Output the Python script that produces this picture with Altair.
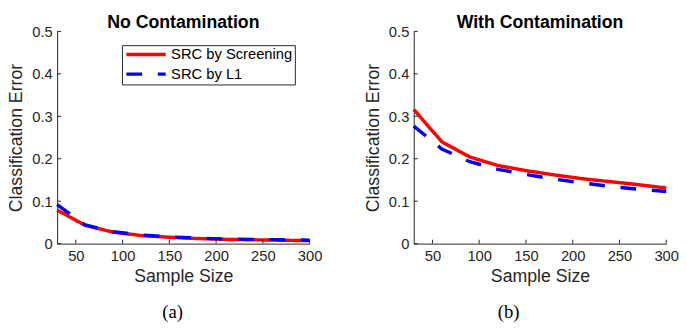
import altair as alt
import pandas as pd

# ---- data ----
sample_size = [30, 60, 90, 120, 150, 180, 210, 240, 270, 300]
no_contam_screening = [0.079, 0.043, 0.027, 0.019, 0.015, 0.012, 0.010, 0.009, 0.008, 0.007]
no_contam_l1 = [0.092, 0.044, 0.028, 0.020, 0.016, 0.013, 0.011, 0.010, 0.009, 0.008]
contam_screening = [0.316, 0.240, 0.204, 0.184, 0.172, 0.162, 0.153, 0.146, 0.139, 0.131]
contam_l1 = [0.277, 0.223, 0.193, 0.175, 0.163, 0.152, 0.143, 0.135, 0.128, 0.123]
series_names = ["SRC by Screening", "SRC by L1"]
panel_titles = ["No Contamination", "With Contamination"]
captions = ["(a)", "(b)"]
x_ticks = [50, 100, 150, 200, 250, 300]
y_ticks = [0, 0.1, 0.2, 0.3, 0.4, 0.5]

W, H = 257, 216
AX = "#262626"
FONT = "Liberation Sans"


def long_df(screen, l1):
    rows = []
    for s, v in zip(sample_size, screen):
        rows.append({"sample": s, "error": v, "method": series_names[0]})
    for s, v in zip(sample_size, l1):
        rows.append({"sample": s, "error": v, "method": series_names[1]})
    return pd.DataFrame(rows)


xscale = alt.Scale(domain=[30, 300], nice=False, zero=False)
yscale = alt.Scale(domain=[0, 0.5], nice=False)
x_axis = alt.Axis(values=x_ticks, format="d", ticks=False, title="Sample Size", labelFlush=False)
y_axis = alt.Axis(values=y_ticks, format="~g", ticks=False, title="Classification Error", labelFlush=False)


def panel(screen, l1, title, caption, show_legend, cap_shift):
    df = long_df(screen, l1)
    if show_legend:
        leg = alt.Legend(
            title=None, orient="none", legendX=66, legendY=14,
            symbolType="M-4,0H4", symbolSize=100, symbolStrokeWidth=3.5,
            labelFont=FONT, labelFontSize=15, labelColor="black", labelOffset=18,
            padding=2, rowPadding=4, strokeColor=AX, fillColor="white",
            symbolOffset=15,
        )
    else:
        leg = None
    base = alt.Chart(df).mark_line(strokeWidth=3.5, strokeCap="butt").encode(
        x=alt.X("sample:Q", scale=xscale, axis=x_axis),
        y=alt.Y("error:Q", scale=yscale, axis=y_axis),
        color=alt.Color("method:N", scale=alt.Scale(domain=series_names, range=["#ff0000", "#0000ff"]),
                        legend=leg),
        strokeDash=alt.StrokeDash("method:N", scale=alt.Scale(domain=series_names, range=[[1, 0], [16, 16]]),
                                  legend=leg),
    )
    red = base.transform_filter(alt.datum.method == series_names[0])
    blue = base.transform_filter(alt.datum.method == series_names[1])

    xt = alt.Chart(pd.DataFrame({"sample": x_ticks})).mark_rule(color=AX, strokeWidth=1).encode(
        x=alt.X("sample:Q", scale=xscale, axis=x_axis),
        y=alt.value(H), y2=alt.value(H - 4),
    )
    yt = alt.Chart(pd.DataFrame({"error": y_ticks})).mark_rule(color=AX, strokeWidth=1).encode(
        y=alt.Y("error:Q", scale=yscale, axis=y_axis),
        x=alt.value(0), x2=alt.value(4),
    )
    cap = alt.Chart(pd.DataFrame({"c": [caption]})).mark_text(
        font="Liberation Serif", fontSize=19, color="black", baseline="middle", align="center"
    ).encode(text="c:N", x=alt.value(W / 2 + cap_shift), y=alt.value(H + 70))

    return alt.layer(red, blue, xt, yt, cap).properties(
        width=W, height=H,
        title=alt.TitleParams(title, font=FONT, fontSize=18, fontWeight="bold", color="black", offset=-8),
    )


left = panel(no_contam_screening, no_contam_l1, panel_titles[0], captions[0], True, -11)
right = panel(contam_screening, contam_l1, panel_titles[1], captions[1], False, -32)

chart = alt.hconcat(left, right, spacing=43).resolve_scale(
    color="independent", strokeDash="independent"
).properties(padding={"top": 4, "left": 0, "right": 0, "bottom": 0}).configure_view(stroke=None).configure_axis(
    grid=False, domainColor=AX, domainWidth=1,
    labelFont=FONT, labelFontSize=15, labelColor=AX, labelPadding=5,
    titleFont=FONT, titleFontSize=18, titleFontWeight="normal", titleColor=AX,
).configure_axisY(titlePadding=6).configure_axisX(titlePadding=5)

chart.save("out.html", embed_options={"renderer": "svg", "actions": False})
